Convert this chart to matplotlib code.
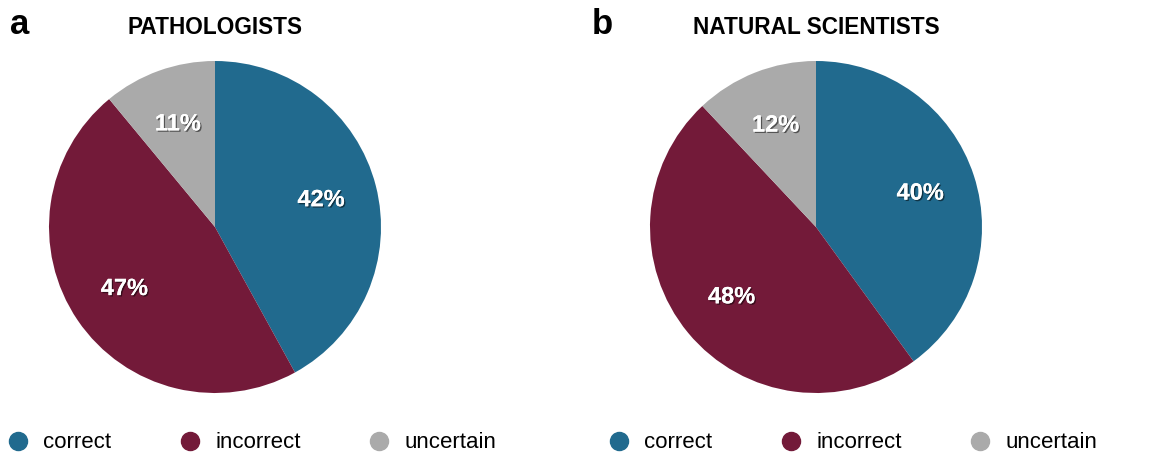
import matplotlib
matplotlib.use("Agg")
import matplotlib.pyplot as plt
import matplotlib.patheffects as pe
from matplotlib.lines import Line2D

plt.rcParams['font.family'] = ['Liberation Sans', 'DejaVu Sans']

categories = ['correct', 'incorrect', 'uncertain']
pathologists = [42, 47, 11]
natural_scientists = [40, 48, 12]
panel_titles = ['PATHOLOGISTS', 'NATURAL SCIENTISTS']
panel_letters = ['a', 'b']

colors = ['#216a8e', '#731a39', '#aaaaaa']

W, H = 1155, 458
fig = plt.figure(figsize=(W / 100, H / 100), dpi=100)

# pie centres and radius in pixels
centres = [(215, 227), (816, 227)]
radius = 166
legend_x = [6.9, 607.9]
letter_x = [10, 592]

shadow = [pe.withSimplePatchShadow(offset=(1, -1), shadow_rgbFace='black', alpha=0.5),
          pe.Normal()]

for i, vals in enumerate([pathologists, natural_scientists]):
    cx, cy = centres[i]
    ax = fig.add_axes([(cx - radius) / W, (H - cy - radius) / H,
                       2 * radius / W, 2 * radius / H])
    wedges, texts, autotexts = ax.pie(
        vals, colors=colors, startangle=90, counterclock=False,
        autopct='%d%%', pctdistance=0.66, radius=1.0,
        wedgeprops=dict(linewidth=0))
    for t in autotexts:
        t.set_color('white')
        t.set_fontsize(17)
        t.set_fontweight('bold')
        t.set_path_effects(shadow)
    ax.set_xlim(-1, 1)
    ax.set_ylim(-1, 1)
    ax.set_aspect('equal')
    ax.axis('off')

    fig.text(cx / W, 1 - 28 / H, panel_titles[i], ha='center', va='center',
             fontsize=16.3, fontweight='bold')
    fig.text(letter_x[i] / W, 1 - 24 / H, panel_letters[i], ha='left',
             va='center', fontsize=25, fontweight='bold')

    handles = [Line2D([], [], marker='o', linestyle='none', markersize=13,
                      markerfacecolor=c, markeredgecolor=c) for c in colors]
    fig.legend(handles, categories, loc='center left',
               bbox_to_anchor=(legend_x[i] / W, 1 - 443 / H),
               ncol=3, frameon=False, fontsize=16, handlelength=1.0,
               handletextpad=0.63, columnspacing=3.04, borderpad=0,
               borderaxespad=0)

fig.savefig('out.png', dpi=100)
